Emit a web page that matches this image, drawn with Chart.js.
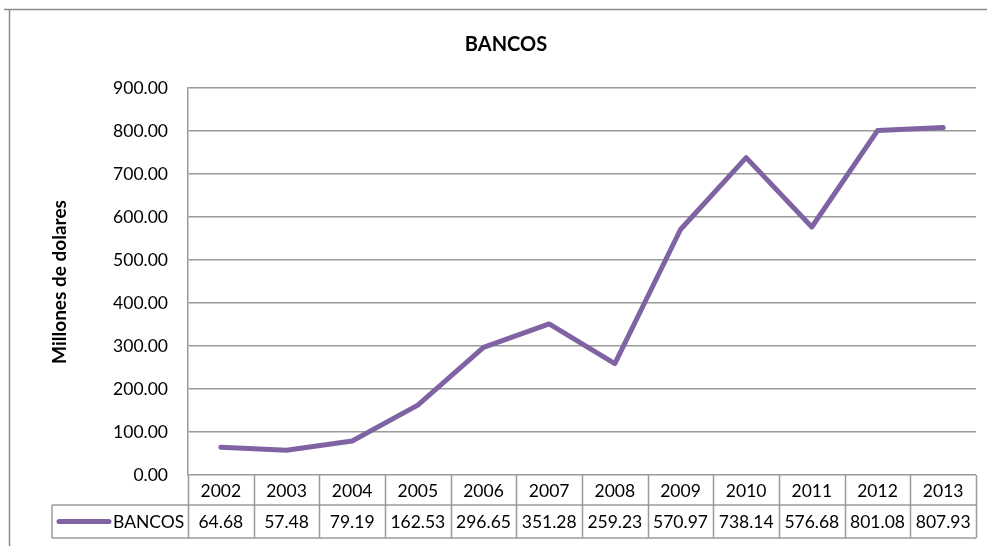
<!DOCTYPE html>
<html>
<head>
<meta charset="utf-8">
<script src="https://cdn.jsdelivr.net/npm/chart.js@4/dist/chart.umd.min.js"></script>
<style>
  html, body { margin: 0; padding: 0; background: #fff; }
  canvas { display: block; }
</style>
</head>
<body>
<canvas id="c" width="987" height="546"></canvas>
<script>
const chartTitle = 'BANCOS';
const seriesName = 'BANCOS';
const yAxisTitle = 'Millones de dolares';
const years = ['2002','2003','2004','2005','2006','2007','2008','2009','2010','2011','2012','2013'];
const values = [64.68, 57.48, 79.19, 162.53, 296.65, 351.28, 259.23, 570.97, 738.14, 576.68, 801.08, 807.93];
const tableLabels = ['64.68','57.48','79.19','162.53','296.65','351.28','259.23','570.97','738.14','576.68','801.08','807.93'];
const yMin = 0, yMax = 900, yStep = 100;

const LINE_COLOR = '#7f63a3';
const GRID_COLOR = '#9a9a9a';
const FONT = 'Lato, "Open Sans", sans-serif';

const framePlugin = {
  id: 'frame',
  beforeDraw(chart) {
    const ctx = chart.ctx;
    ctx.save();
    ctx.fillStyle = '#fff';
    ctx.fillRect(0, 0, chart.width, chart.height);
    ctx.strokeStyle = '#8a8a8a';
    ctx.lineWidth = 1.5;
    ctx.beginPath();
    ctx.moveTo(4, 9.5); ctx.lineTo(chart.width, 9.5);
    ctx.moveTo(9.5, 9.5); ctx.lineTo(9.5, chart.height);
    ctx.stroke();
    ctx.restore();
  },
  afterDraw(chart) {
    const ctx = chart.ctx;
    const area = chart.chartArea;
    const xs = chart.scales.x;
    const n = years.length;
    const colW = (area.right - area.left) / n;
    const row1Top = area.bottom, row1Bot = area.bottom + 30, row2Bot = area.bottom + 63;
    const legendLeft = 52;
    ctx.save();
    // title
    ctx.fillStyle = '#000';
    ctx.textAlign = 'center';
    ctx.textBaseline = 'middle';
    ctx.font = 'bold 20px ' + FONT;
    ctx.fillText(chartTitle, 506, 45);
    // y title
    ctx.save();
    ctx.translate(60, 282);
    ctx.rotate(-Math.PI / 2);
    ctx.font = 'bold 19px ' + FONT;
    ctx.fillText(yAxisTitle, 0, 0);
    ctx.restore();
    // table lines
    ctx.strokeStyle = GRID_COLOR;
    ctx.lineWidth = 1.5;
    ctx.beginPath();
    ctx.moveTo(area.left, row1Bot); ctx.lineTo(area.right, row1Bot);
    ctx.moveTo(legendLeft, row1Bot); ctx.lineTo(area.left, row1Bot);
    ctx.moveTo(legendLeft, row2Bot); ctx.lineTo(area.right, row2Bot);
    ctx.moveTo(legendLeft, row1Bot); ctx.lineTo(legendLeft, row2Bot);
    for (let i = 0; i <= n; i++) {
      const x = Math.round(area.left + i * colW) + 0.5;
      ctx.moveTo(x, row1Top); ctx.lineTo(x, row2Bot);
    }
    ctx.stroke();
    // table text
    ctx.fillStyle = '#000';
    ctx.font = '17.5px ' + FONT;
    for (let i = 0; i < n; i++) {
      const cx = xs.getPixelForValue(i);
      ctx.fillText(years[i], cx, (row1Top + row1Bot) / 2 + 1);
      ctx.fillText(tableLabels[i], cx, (row1Bot + row2Bot) / 2 + 1);
    }
    // legend cell
    const ly = (row1Bot + row2Bot) / 2;
    ctx.strokeStyle = LINE_COLOR;
    ctx.lineWidth = 5;
    ctx.lineCap = 'round';
    ctx.beginPath();
    ctx.moveTo(59, ly); ctx.lineTo(109, ly);
    ctx.stroke();
    ctx.textAlign = 'left';
    ctx.fillText(seriesName, 113, ly + 1);
    ctx.restore();
  }
};

new Chart(document.getElementById('c'), {
  type: 'line',
  data: {
    labels: years,
    datasets: [{
      label: seriesName,
      data: values,
      borderColor: LINE_COLOR,
      backgroundColor: LINE_COLOR,
      borderWidth: 5,
      borderCapStyle: 'round',
      borderJoinStyle: 'round',
      pointRadius: 0,
      tension: 0,
      fill: false
    }]
  },
  options: {
    responsive: false,
    animation: false,
    devicePixelRatio: 1,
    layout: { padding: { top: 88, bottom: 71, left: 0, right: 11 } },
    plugins: {
      legend: { display: false },
      title: { display: false },
      tooltip: { enabled: false }
    },
    scales: {
      x: {
        type: 'category',
        offset: true,
        display: false,
        grid: { display: false }
      },
      y: {
        min: yMin,
        max: yMax,
        afterFit(scale) { scale.width = 188; },
        ticks: {
          stepSize: yStep,
          padding: 20,
          color: '#000',
          font: { family: FONT, size: 17.5 },
          callback: v => Number(v).toFixed(2)
        },
        grid: { color: GRID_COLOR, lineWidth: 1.5, drawTicks: false },
        border: { display: true, color: GRID_COLOR, width: 1.5 }
      }
    }
  },
  plugins: [framePlugin]
});
</script>
</body>
</html>
